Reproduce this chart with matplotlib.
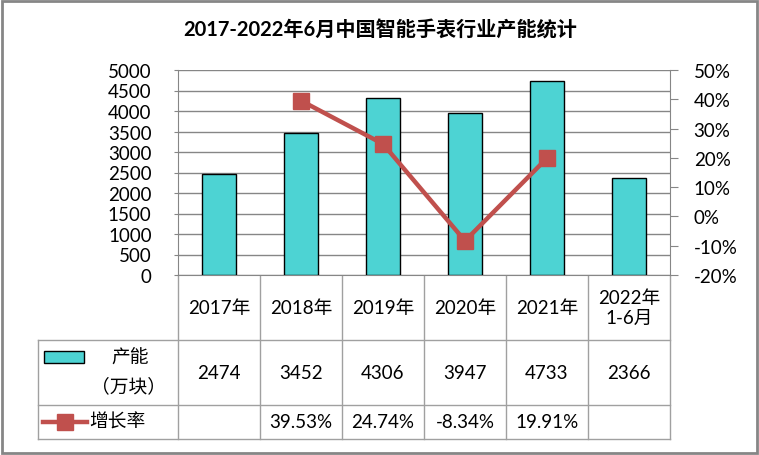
import numpy as np
import matplotlib
matplotlib.use('Agg')
import matplotlib.pyplot as plt
from matplotlib.patches import Rectangle

plt.rcParams['font.family'] = ['Lato', 'Noto Sans CJK SC', 'DejaVu Sans']

# data
years = ['2017年', '2018年', '2019年', '2020年', '2021年', '2022年\n1-6月']
capacity = [2474, 3452, 4306, 3947, 4733, 2366]
growth = [np.nan, 39.53, 24.74, -8.34, 19.91, np.nan]
growth_txt = ['', '39.53%', '24.74%', '-8.34%', '19.91%', '']

W, H = 759, 456
bar_c = '#4DD3D3'
line_c = '#C0504D'
grid_c = '#868686'
tab_c = '#A0A0A0'
fs = 13.5

fig = plt.figure(figsize=(W/100, H/100), dpi=100)

# plot area in pixels
L, R, T, B = 178, 670, 71, 276
ax = fig.add_axes([L/W, 1-B/H, (R-L)/W, (B-T)/H])
x = np.arange(len(years))
ax.bar(x, capacity, width=0.42, color=bar_c, edgecolor='black', lw=1, zorder=3)
ax.set_xlim(-0.5, len(years)-0.5)
ax.set_ylim(0, 5000)
ax.set_yticks(np.arange(0, 5001, 500))
ax.yaxis.grid(True, color=grid_c, lw=1)
ax.set_axisbelow(True)
ax.set_xticks([])
ax.tick_params(axis='y', length=3, color=grid_c, labelsize=fs, pad=16)
for s in ['top', 'right']:
    ax.spines[s].set_visible(False)
for s in ['left', 'bottom']:
    ax.spines[s].set_color(grid_c)

ax2 = ax.twinx()
ax2.plot(x, growth, color=line_c, lw=3.2, marker='s', ms=12, zorder=4)
ax2.set_ylim(-20, 50)
ax2.set_yticks(np.arange(-20, 51, 10))
ax2.set_yticklabels([f'{v}%' for v in range(-20, 51, 10)])
ax2.tick_params(axis='y', length=6, color=grid_c, labelsize=fs, pad=11)
for s in ['top', 'left', 'bottom']:
    ax2.spines[s].set_visible(False)
ax2.spines['right'].set_color(grid_c)

# table overlay in pixel coordinates
ov = fig.add_axes([0, 0, 1, 1], zorder=-1)
ov.set_xlim(0, W)
ov.set_ylim(H, 0)
ov.axis('off')

colw = (R - L) / len(years)
edges = [L + i*colw for i in range(len(years)+1)]
y_head, y_r1, y_r2, y_end = B, 341, 406, 440
LL = 38

for e in edges:
    ov.plot([e, e], [y_head, y_end], color=tab_c, lw=1)
ov.plot([LL, LL], [y_r1, y_end], color=tab_c, lw=1)
for yy in [y_r1, y_r2, y_end]:
    ov.plot([LL, R], [yy, yy], color=tab_c, lw=1)

for i in range(len(years)):
    cx = edges[i] + colw/2
    ov.text(cx, (y_head+y_r1)/2, years[i], ha='center', va='center', fontsize=fs, linespacing=1.2)
    ov.text(cx, (y_r1+y_r2)/2, str(capacity[i]), ha='center', va='center', fontsize=fs)
    ov.text(cx, (y_r2+y_end)/2, growth_txt[i], ha='center', va='center', fontsize=fs)

# legend cells
ov.add_patch(Rectangle((44, 352), 40, 12, facecolor=bar_c, edgecolor='black', lw=1))
ov.text(130, 358, '产能', ha='center', va='center', fontsize=fs)
ov.text(128, 386, '（万块）', ha='center', va='center', fontsize=fs)
ov.plot([43, 87], [423, 423], color=line_c, lw=3.2)
ov.plot([65], [423], color=line_c, marker='s', ms=12)
ov.text(89, 422, '增长率', ha='left', va='center', fontsize=fs)

fig.text(380/W, 1-31/H, '2017-2022年6月中国智能手表行业产能统计', ha='center', va='center',
         fontsize=14.5, fontweight='bold')

fig.patches.append(Rectangle((2/W, 2/H), (W-4)/W, (H-4)/H, transform=fig.transFigure,
                             fill=False, edgecolor='#868686', lw=2))

fig.savefig('out.png', dpi=100)
